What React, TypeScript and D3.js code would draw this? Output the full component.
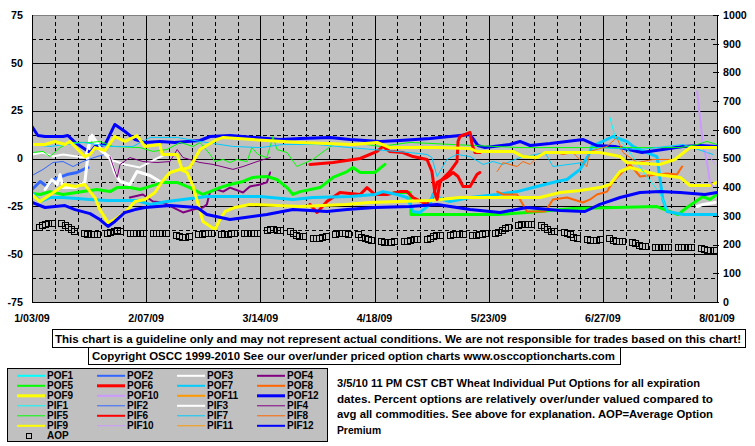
import React from 'react';
import * as d3 from 'd3';

type P = [number, number];

// x: days since 1/03/09 ; left axis: percent ; right axis: AOP
const xTickLabels = ['1/03/09', '2/07/09', '3/14/09', '4/18/09', '5/23/09', '6/27/09', '8/01/09'];
const xTickDays = [0, 35, 70, 105, 140, 175, 210];
const leftTicks = [75, 50, 25, 0, -25, -50, -75];
const rightTicks = [1000, 900, 800, 700, 600, 500, 400, 300, 200, 100, 0];

const pof2: P[] = [[0,-16.2],[2.5,-12],[4.6,-14.6],[6.4,-11],[10.7,-8.4],[13.8,-7.3],[17.2,-4.7]];
const pof3: P[] = [[4,-16.2],[6.1,-11],[7.7,-13.6],[8.6,-8.4],[9.5,-15.2],[13.2,-15.2],[16.2,-12.5],[17.8,11.5],[19.3,8.4],[20.8,4.7],[23.9,0.5],[25.4,-7.3],[27,-12],[30,-13.6],[32.2,-6.8],[36.2,-8.9],[39.2,-12]];
const pof3Late: P[] = [[203.9,-25.1],[205.7,-24],[209.4,-23]];
const pof4: P[] = [[30,-20.4],[34,-18.8],[37.1,-22.5],[40.2,-23],[43.2,-25.6],[46.3,-28.2],[49.4,-26.7],[52.4,-25.6],[53.6,-24],[54.6,-17.3],[56.7,-16.2],[58.6,-17.3],[60.7,-15.2],[64.7,-17.8],[66.8,-14.6],[69.9,-13.6],[72,-12.5],[73,-7.3]];
const pof5: P[] = [[0,-18.3],[2.5,-18.8],[5.5,-17.3],[9.5,-18.8],[15.6,-17.3],[19.9,-16.2],[23.9,-17.3],[26.1,-15.2],[30,-15.2],[33.1,-16.2],[36.2,-14.6],[40.2,-12.5],[44.5,-12.5],[48.4,-15.2],[52.4,-18.8],[54.6,-17.3],[57.6,-15.2],[60.7,-13.6],[64.7,-12],[67.7,-9.9],[72,-9.4],[75.1,-11],[78.2,-15.2],[80,-18.8],[82.2,-17.3],[88.3,-15.2],[92.3,-9.9],[96.6,-6.8],[98.4,-4.7],[100.6,-7.3],[105.1,-7.3],[108.2,-3.1]];
const pof5Late: P[] = [[111,-17.8],[115.9,-17.8],[116.2,-29.3],[142.6,-29.3],[151.7,-28.2],[165.8,-26.1],[191.6,-25.1],[198,-29.3],[200.8,-25.6],[205.7,-19.9],[207.8,-21.4],[210,-18.8]];
const pof6: P[] = [[85.2,-24],[87.4,-28.2],[90.4,-22.5],[94.4,-17.8],[100.6,-18.8],[102.7,-15.2],[105.1,-18.8],[108.8,-18.8],[112.8,-17.3],[115,-17.3],[116.8,-20.4],[121.1,-24],[122.9,-20.4],[124.2,-12.5],[127.2,-9.9],[129.1,-7.3],[130.6,-9.4],[132.1,-14.6],[134.3,-14.6],[136.4,-8.4],[137.3,-7.3]];
const pof7: P[] = [[0,-17.8],[2.5,-22.5],[5.5,-20.4],[9.5,-20.4],[17.8,-21.4],[23,-22],[32.2,-22],[36.2,-24],[41.4,-22.5],[53.6,-19.9],[61.6,-19.9],[69.9,-19.9],[80,-21.4],[86.1,-20.4],[97.5,-19.9],[105.1,-18.8],[107.6,-17.3],[111.9,-18.8],[115,-20.4],[116.8,-27.7],[118.9,-28.2],[122,-24],[122.9,-18.8],[126,-21.4],[128.1,-22.5],[134.3,-20.4],[142.6,-18.8],[148.7,-17.3],[154.8,-14.6],[160.9,-12],[164,-11],[168,-5.7],[170.4,1],[171.7,6.3],[178.1,11.5],[182.4,8.9],[184.2,6.3],[188.5,3.1],[191.6,1],[193.4,-21.4],[194.7,-27.7],[199.6,-29.3],[210,-29.3]];
const pof8: P[] = [[142.6,-17.3],[144.4,-18.8],[148.7,-18.8],[150.5,-24],[151.7,-27.7],[157.3,-27.7],[159.7,-21.4],[164,-20.4],[168.9,-23],[171.1,-21.4],[173.2,-18.8],[176.3,-17.3],[178.1,-12],[181.2,-6.8],[183.3,-3.1],[186.4,-9.4],[194.7,-7.8],[197.7,-8.4],[199.3,-4.2]];
const pof9: P[] = [[0,-18.8],[2.5,-22.5],[7,-17.3],[10.1,-13.6],[13.2,-14.6],[16.2,-13.6],[17.8,-17.3],[19.3,-20.4],[20.8,-26.7],[23.3,-33.5],[25.4,-31.9],[28.5,-28.2],[31.6,-22.5],[34.6,-21.4],[37.7,-17.8],[39.9,-12],[42.3,-7.3],[45.4,-5.7],[47.5,-7.3],[49.4,-14.6],[52.4,-32.9],[56.1,-37.1],[57.6,-31.9],[59.2,-27.7],[62.2,-25.6],[66.8,-24],[82.2,-25.1],[96,-24],[103.6,-23],[112.8,-22.5],[122,-22],[131.2,-20.4],[155.7,-20.4],[161.9,-17.8],[168,-16.7],[174.1,-15.2],[177.2,-13.6],[180.3,-6.8],[183.3,-4.7],[187.9,-6.8],[191.6,-8.4],[198.7,-9.9],[201.7,-14.1],[207.8,-14.1],[210,-12.5]];
const pof10: P[] = [[203.9,35],[204.8,21.4],[205.7,7.3],[206.9,-1.6],[207.8,-12],[208.8,-14.6]];
const pof12: P[] = [[0,16.7],[1.8,12],[4,11.5],[9.5,11.5],[11,12],[13.2,8.4],[17.8,3.1],[19.3,6.3],[22.4,7.3],[25.4,17.8],[28.5,14.1],[31.6,9.9],[34.6,8.4],[39.2,8.9],[43.8,8.4],[51.5,9.4],[54.6,11.5],[60.7,12],[68.4,11],[76,9.9],[82.2,10.5],[91.4,11],[97.5,9.9],[106.7,8.9],[112.8,9.4],[122,10.5],[128.1,11.5],[134.3,12.5],[136.7,6.8],[138.9,5.7],[146.5,7.3],[149.6,8.9],[152.7,6.8],[158.8,7.8],[169,9.9],[173,6.8],[178.7,6.3],[187,3.1],[193.4,4.7],[199.6,6.3],[204.8,6.8],[210,6.3]];

const pif1: P[] = [[177.2,21.4],[178.7,11.5],[180.9,8.4],[184.2,1],[188.5,-9.4],[191.6,-16.2],[193.4,-21.4],[194.7,-27.2]];
const pif2: P[] = [[0,-8.9],[3.4,-5.7],[6.4,-2.1],[9.5,-1.6],[12.6,-4.2],[15.6,-1.6],[19.9,1],[22,2]];
const pif3: P[] = [[0,2.1],[3.4,3.1],[6.4,1],[9.5,2.1],[13.8,1],[16.2,0.5],[18.4,12.5],[19.9,8.9],[21.8,3.1],[23.9,-0.5],[28.5,-3.1],[33.1,-4.7],[37.7,-0.5],[40.8,2.1]];
const pif4: P[] = [[23.9,1],[26.1,-9.9],[27,-3.1],[30,0.5],[34,-1.6],[38.3,-2.1],[42.3,-1.6],[44.5,4.7],[46.3,0.5],[51.5,-2.1],[55.5,-3.1],[61.6,-5.7],[64.7,-4.2],[69,-1.6],[73,0.5]];
const pif5: P[] = [[0,3.1],[3.4,3.7],[5.5,1],[8.6,5.7],[11.6,8.4],[17.8,8.4],[20.8,8.9],[24.8,6.3],[33.1,5.7],[37.1,3.7],[41.4,4.7],[45.4,8.4],[49.4,6.3],[51.5,8.4],[54.6,2.1],[56.1,-1.6],[58.6,-0.5],[60.7,-2.1],[62.8,-0.5],[65.9,-1.6],[67.4,5.7],[69.3,2.1],[72,0.5],[73.9,11.5],[75.1,4.7],[78.2,3.1],[81.2,-4.2],[86.1,-0.5],[92.3,7.3],[100.6,7.8],[106.7,6.3],[115.9,8.4],[129.1,7.3],[149.6,5.7],[171.1,5.7],[190.4,5.7],[198.7,5.7],[203.9,7.3],[206.9,8.9],[210,7.3]];
const pif6: P[] = [[85.2,-3.1],[92.3,-2.1],[100.6,0],[105.8,3.7],[107.6,6.3],[109.7,3.7],[113.7,3.1],[116.8,1],[121.1,-0.5],[122.6,-6.8],[123.5,-17.8],[124.2,-21.4],[125.1,-12],[128.1,-6.8],[130.3,-1.6],[130.6,8.9],[131.2,11.5],[134.3,13.6],[134.9,7.3],[135.8,3.1],[137.3,3.1]];
const pif7: P[] = [[0,7.3],[5.5,6.3],[15.6,8.4],[23.9,6.3],[31,6.3],[36.2,11],[44.5,11],[51.5,8.9],[61.6,6.3],[69.9,5.7],[76.9,7.3],[87.4,7.3],[97.5,5.7],[104.5,4.7],[115.9,3.1],[121.1,2.1],[122.6,0.5],[124.2,-9.4],[127.2,-0.5],[130.3,2.1],[134.3,1],[138.3,-3.1],[141.3,-1.6],[144.4,-3.1],[149.6,0.5],[157.3,3.1],[159.7,-4.2],[168.9,-2.1],[171.1,3.7],[173.5,5.7],[186.4,4.7],[199.6,7.3],[208.8,2.1]];
const pif8: P[] = [[142.6,-6.8],[144.4,-2.1],[148.7,-4.2],[150.5,-1.6],[152.7,-3.1],[155.7,2.1],[158.8,3.7],[162.8,2.1],[165.8,3.1],[170.1,-4.2],[171.1,3.7],[176.3,6.3],[179.3,11],[181.2,3.1],[185.5,-2.1],[190.4,-0.5],[197.7,-0.5]];
const pif9: P[] = [[0,7.3],[4,7.3],[7,8.9],[10.1,7.3],[11.6,8.9],[13.2,6.3],[16.2,1],[17.8,2.1],[19.3,5.7],[22.4,4.2],[25.4,11.5],[28.5,8.9],[32.2,12],[34.6,6.3],[39.2,7.3],[39.9,2.1],[44.5,2.1],[46,-5.7],[48.4,-4.7],[51.5,4.7],[56.7,9.9],[58.6,11],[67.7,9.9],[82.2,8.4],[98.4,7.3],[105.8,8.4],[109.7,5.7],[124.2,5.7],[134.3,5.2],[136.4,3.7],[147.5,3.7],[150.5,1],[154.8,0.5],[157.3,3.1],[174.1,3.1],[180.3,1],[182.4,-2.1],[192.5,-3.1],[197.1,-0.5],[201.7,5.7],[210,5.7]];
const pif10: P[] = [[206.3,4.7],[209.4,-3.1]];
const pif12: P[] = [[0,-23],[4,-25.6],[10.1,-24.6],[13.2,-26.7],[17.8,-28.8],[20.8,-31.9],[23.3,-35.5],[25.4,-32.9],[28.5,-28.2],[31.6,-26.7],[34.6,-25.6],[42.3,-24.6],[50.6,-25.6],[53.6,-29.3],[60.7,-31.9],[65.3,-30.8],[72,-29.3],[80,-26.7],[90.4,-27.7],[96.6,-26.7],[105.1,-25.6],[115.9,-25.1],[124.2,-24],[134.3,-26.7],[143.5,-28.2],[151.7,-25.6],[161.9,-27.2],[169.5,-27.7],[174.1,-24],[180.3,-20.4],[186.4,-17.8],[192.5,-17.3],[198.7,-17.8],[206.3,-18.8],[210,-17.8]];

// AOP (right axis): one row per week, Mon..Fri
const aopWeeks: number[][] = [
  [261,268,272,275,275],[275,268,261,254,247],[240,237,237,237,237],[240,244,247,251,247],
  [240,240,240,240,240],[240,240,240,240,240],[233,230,226,226,230],[237,237,240,240,240],
  [237,237,237,240,240],[240,240,240,240,240],[251,254,254,251,251],[247,240,233,230,230],
  [223,223,223,226,230],[237,240,240,240,237],[237,226,223,220,216],[213,209,209,209,213],
  [213,213,216,220,220],[220,223,230,233,233],[233,237,237,237,237],[233,233,237,237,240],
  [240,244,251,258,261],[268,272,272,272,272],[268,261,254,247,247],[244,240,237,226,223],
  [220,216,216,216,220],[223,216,213,213,213],[209,206,199,195,195],[192,192,192,192,192],
  [192,192,192,192,192],[188,185,181,181,181],
];

const seriesNames = ['POF1','POF2','POF3','POF4','POF5','POF6','POF7','POF8','POF9','POF10','POF11','POF12',
  'PIF1','PIF2','PIF3','PIF4','PIF5','PIF6','PIF7','PIF8','PIF9','PIF10','PIF11','PIF12'];
const seriesColors = ['#00FFFF','#3366FF','#FFFFFF','#800080','#00FF00','#FF0000','#00CCFF','#FF6600','#FFFF00','#CC99FF','#FF9900','#0000FF',
  '#00FFFF','#3366FF','#FFFFFF','#800080','#00FF00','#FF0000','#00CCFF','#FF6600','#FFFF00','#CC99FF','#FF9900','#0000FF'];
const seriesWidths = [2,3,3,2,3,3,3,2,3,2,2,3, 1,1,2,1,1,3,1,1,3,1,1,3];
const legendWidths = [2,2,2,2,2,3,2,2,3,2,2,3, 1,1,2,1,1,2,1,1,2,1,1,2];
const seriesData: P[][][] = [
  [], [pof2], [pof3, pof3Late], [pof4], [pof5, pof5Late], [pof6], [pof7], [pof8], [pof9], [pof10], [], [pof12],
  [pif1], [pif2], [pif3], [pif4], [pif5], [pif6], [pif7], [pif8], [pif9], [pif10], [], [pif12],
];

const footer1 = 'This chart is a guideline only and may not represent actual conditions. We are not responsible for trades based on this chart!';
const footer2 = 'Copyright OSCC 1999-2010 See our over/under priced option charts www.osccoptioncharts.com';
const noteLines = [
  '3/5/10 11 PM CST CBT Wheat Individual Put Options for all expiration',
  'dates. Percent options are relatively over/under valued compared to',
  'avg all commodities. See above for explanation. AOP=Average Option',
  'Premium',
];

const W = 755, H = 446;
const PL = 32, PR = 717, PT = 15, PB = 302;
const FONT = "'Liberation Sans', Arial, sans-serif";

export default function App() {
  const x = d3.scaleLinear().domain([0, 210]).range([PL, PR]);
  const yL = d3.scaleLinear().domain([-75, 75]).range([PB, PT]);
  const yR = d3.scaleLinear().domain([0, 1000]).range([PB, PT]);
  const line = d3.line<P>().x(d => x(d[0])).y(d => yL(d[1]));

  const hGrid = d3.range(-62.5, 75, 12.5);
  const vGrid = d3.range(7, 210, 7);

  const aopPts: P[] = [];
  aopWeeks.forEach((wk, w) => wk.forEach((v, i) => aopPts.push([2 + 7 * w + i, v])));

  const legCols = [17, 97, 177, 257];
  const legRowBase = 379.3;

  return (
    <svg width={W} height={H} style={{ position: 'absolute', left: 0, top: 0, display: 'block' }} fontFamily={FONT} fontWeight="bold">
      <rect x={0} y={0} width={W} height={H} fill="#FFFFFF" />
      <defs>
        <clipPath id="plotClip"><rect x={PL} y={PT} width={PR - PL} height={PB - PT} /></clipPath>
      </defs>
      <rect x={PL} y={PT} width={PR - PL} height={PB - PT} fill="#C0C0C0" />
      <g shapeRendering="crispEdges">
        {hGrid.map(v => {
          const solid = Math.abs(v % 25) < 1e-6;
          return <line key={'h' + v} x1={PL} x2={PR} y1={Math.round(yL(v)) + 0.5} y2={Math.round(yL(v)) + 0.5}
            stroke="#000" strokeWidth={1} strokeDasharray={solid ? undefined : '4,3'} />;
        })}
        {vGrid.map(d => {
          const solid = d % 35 === 0;
          return <line key={'v' + d} y1={PT} y2={PB} x1={Math.round(x(d)) + 0.5} x2={Math.round(x(d)) + 0.5}
            stroke="#000" strokeWidth={1} strokeDasharray={solid ? undefined : '4,3'} />;
        })}
        <line x1={PL} x2={PR} y1={PT + 0.5} y2={PT + 0.5} stroke="#808080" />
      </g>
      <g clipPath="url(#plotClip)" fill="none" strokeLinejoin="round" strokeLinecap="round">
        {seriesData.map((segs, i) => segs.map((seg, j) => (
          <path key={seriesNames[i] + j} d={line(seg) || ''} stroke={seriesColors[i]} strokeWidth={seriesWidths[i]} />
        )))}
      </g>
      <g shapeRendering="crispEdges">
        {aopPts.map((p, i) => (
          <rect key={'a' + i} x={Math.round(x(p[0])) - 3 + 0.5} y={Math.round(yR(p[1])) - 3 + 0.5} width={6} height={6}
            fill="none" stroke="#000" strokeWidth={1} />
        ))}
      </g>
      <g shapeRendering="crispEdges" stroke="#000">
        <line x1={PL + 0.5} x2={PL + 0.5} y1={PT} y2={PB + 1} />
        <line x1={PL} x2={PR + 1} y1={PB + 0.5} y2={PB + 0.5} />
        <line x1={PR + 0.5} x2={PR + 0.5} y1={PT} y2={PB + 1} />
        {rightTicks.map(t => (
          <line key={'rt' + t} x1={PR - 4} x2={PR + 2} y1={Math.round(yR(t)) + 0.5} y2={Math.round(yR(t)) + 0.5} />
        ))}
      </g>
      <g fontSize={10.7} fill="#000">
        {leftTicks.map(t => (
          <text key={'lt' + t} x={23} y={yL(t) + 3.8} textAnchor="end">{t}</text>
        ))}
        {rightTicks.map(t => (
          <text key={'rl' + t} x={723} y={yR(t) + 3.8} textAnchor="start">{t}</text>
        ))}
        {xTickDays.map((d, i) => (
          <text key={'xl' + d} x={x(d)} y={322} textAnchor="middle">{xTickLabels[i]}</text>
        ))}
      </g>
      <g shapeRendering="crispEdges">
        <rect x={52.5} y={329.5} width={693} height={18} fill="#FFFFFF" stroke="#000" />
        <rect x={88.5} y={347.5} width={532} height={17} fill="#FFFFFF" stroke="#000" />
      </g>
      <text x={55} y={342.5} fontSize={11} textLength={686} lengthAdjust="spacingAndGlyphs">{footer1}</text>
      <text x={92} y={360} fontSize={10.7} textLength={523} lengthAdjust="spacingAndGlyphs">{footer2}</text>
      <rect x={7.5} y={368.5} width={320} height={73} fill="#C0C0C0" stroke="#000" shapeRendering="crispEdges" />
      {seriesNames.map((n, i) => {
        const r = Math.floor(i / 4), c = i % 4;
        const by = legRowBase + r * 10;
        return (
          <g key={'lg' + n}>
            <line x1={legCols[c]} x2={legCols[c] + 28} y1={by - 3.5} y2={by - 3.5} stroke={seriesColors[i]} strokeWidth={legendWidths[i]} />
            <text x={legCols[c] + 30} y={by} fontSize={10}>{n}</text>
          </g>
        );
      })}
      <rect x={26.5} y={433.5} width={5} height={5} fill="none" stroke="#000" shapeRendering="crispEdges" />
      <text x={47} y={legRowBase + 60} fontSize={10}>AOP</text>
      {noteLines.map((t, i) => (
        <text key={'n' + i} x={337} y={387 + i * 15.7} fontSize={10.3}
          textLength={i === 0 ? 363 : i < 3 ? 376 : undefined} lengthAdjust="spacingAndGlyphs">{t}</text>
      ))}
    </svg>
  );
}
